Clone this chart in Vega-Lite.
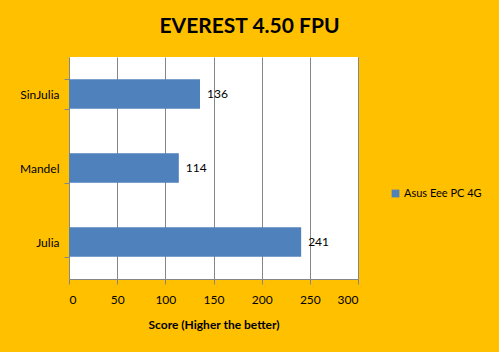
{
  "$schema": "https://vega.github.io/schema/vega-lite/v6.json",
  "width": 289,
  "height": 222,
  "autosize": "none",
  "padding": {"left": 69, "top": 57, "right": 141, "bottom": 73},
  "background": "#FFC000",
  "title": {
    "text": "EVEREST 4.50 FPU",
    "font": "Lato",
    "fontSize": 21,
    "fontWeight": "bold",
    "color": "#000000",
    "anchor": "middle",
    "frame": "group",
    "dx": 36,
    "offset": 14
  },
  "config": {
    "view": {"stroke": null, "fill": "#FFFFFF"},
    "font": "Lato"
  },
  "data": {
    "values": [
      {"test": "SinJulia", "score": 136, "series": "Asus Eee PC 4G"},
      {"test": "Mandel", "score": 114, "series": "Asus Eee PC 4G"},
      {"test": "Julia", "score": 241, "series": "Asus Eee PC 4G"}
    ]
  },
  "encoding": {
    "y": {
      "field": "test",
      "type": "nominal",
      "sort": ["SinJulia", "Mandel", "Julia"],
      "scale": {"paddingInner": 0.6, "paddingOuter": 0.3},
      "axis": {
        "title": null,
        "labelFont": "Lato",
        "labelFontSize": 12,
        "labelColor": "#000000",
        "labelPadding": 5,
        "domainColor": "#868686",
        "tickColor": "#868686",
        "tickSize": 5,
        "tickBand": "extent",
        "grid": false
      }
    },
    "x": {
      "field": "score",
      "type": "quantitative",
      "scale": {"domain": [0, 300], "nice": false},
      "axis": {
        "values": [0, 50, 100, 150, 200, 250, 300],
        "title": "Score (Higher the better)",
        "titleFont": "Lato",
        "titleFontSize": 12,
        "titleFontWeight": "bold",
        "titleColor": "#000000",
        "titlePadding": 14,
        "labelFont": "Lato",
        "labelFontSize": 12,
        "labelColor": "#000000",
        "labelPadding": 10,
        "domainColor": "#868686",
        "tickColor": "#868686",
        "tickSize": 5,
        "grid": true,
        "gridColor": "#868686",
        "gridOpacity": 1
      }
    }
  },
  "layer": [
    {
      "mark": {"type": "bar", "color": "#4F81BD"},
      "encoding": {
        "color": {
          "field": "series",
          "type": "nominal",
          "scale": {"range": ["#4F81BD"]},
          "legend": {
            "title": null,
            "orient": "none",
            "legendX": 321,
            "legendY": 131,
            "symbolType": "square",
            "symbolSize": 60,
            "symbolStrokeWidth": 0,
            "labelFont": "Lato",
            "labelFontSize": 11,
            "labelColor": "#000000",
            "labelOffset": 3
          }
        }
      }
    },
    {
      "mark": {"type": "text", "align": "left", "dx": 7, "fontSize": 12, "font": "Lato", "color": "#000000"},
      "encoding": {"text": {"field": "score", "type": "quantitative"}}
    }
  ]
}
